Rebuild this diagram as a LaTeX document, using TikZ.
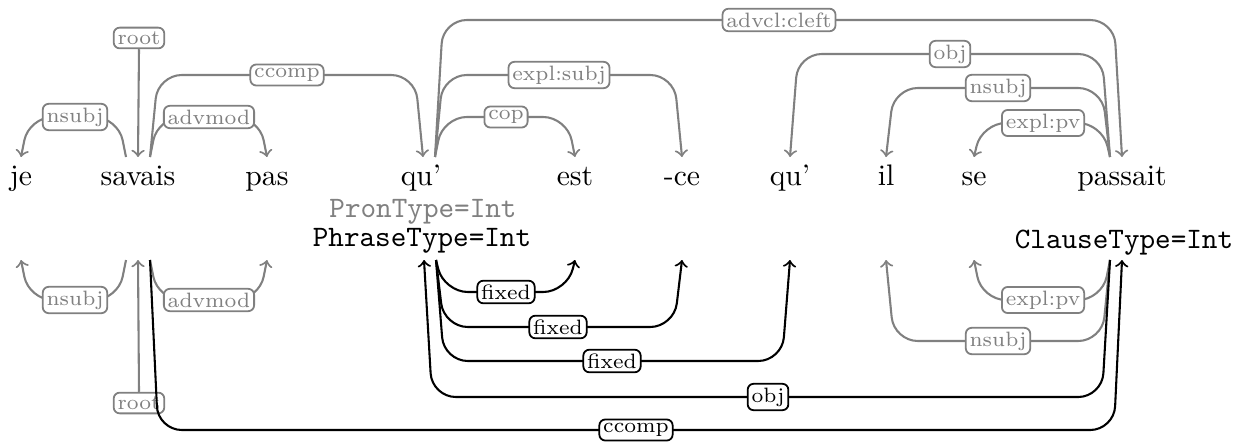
\documentclass[tikz,border=0pt]{standalone}
\usetikzlibrary{calc}
\begin{document}
\begin{tikzpicture}[x=0.3367pt,y=-0.3367pt,
  word/.style={anchor=base,inner sep=0pt,font=\normalsize},
  feat/.style={anchor=base,inner sep=0pt,font=\ttfamily},
  gedge/.style={draw=gray,line width=0.7pt,rounded corners=8pt,->},
  bedge/.style={draw=black,line width=0.7pt,rounded corners=8pt,->},
  glbl/.style={draw=gray,text=gray,fill=white,rounded corners=2pt,inner sep=1.3pt,font=\scriptsize,line width=0.6pt},
  blbl/.style={draw=black,text=black,fill=white,rounded corners=2pt,inner sep=1.3pt,font=\scriptsize,line width=0.6pt}]
\useasboundingbox (0,0) rectangle (1237,443);

% words
\node[word] (je) at (21,185) {je};
\node[word] (savais) at (138,185) {savais};
\node[word] (pas) at (267,185) {pas};
\node[word] (qu1) at (421,185) {qu'};
\node[word] (est) at (575,185) {est};
\node[word] (ce) at (682,185) {-ce};
\node[word] (qu2) at (790,185) {qu'};
\node[word] (il) at (886,185) {il};
\node[word] (se) at (974,185) {se};
\node[word] (passait) at (1122,185) {passait};
\node[feat,text=gray] (pron) at (423,217) {PronType=Int};
\node[feat] (phrase) at (422,246) {PhraseType=Int};
\node[feat] (clause) at (1124,248) {ClauseType=Int};

% anchors
\coordinate (je-T) at (21,157);
\coordinate (savais-T) at (138,157);
\coordinate (pas-T) at (267,157);
\coordinate (qu1-T) at (423,157);
\coordinate (est-T) at (575,157);
\coordinate (ce-T) at (682,157);
\coordinate (qu2-T) at (790,157);
\coordinate (il-T) at (886,157);
\coordinate (se-T) at (974,157);
\coordinate (passait-T) at (1122,157);
\coordinate (je-B) at (21,260);
\coordinate (savais-B) at (138,260);
\coordinate (pas-B) at (267,260);
\coordinate (phrase-B) at (424,260);
\coordinate (est-B) at (575,260);
\coordinate (ce-B) at (682,260);
\coordinate (qu2-B) at (790,260);
\coordinate (il-B) at (886,260);
\coordinate (se-B) at (974,260);
\coordinate (clause-B) at (1122,260);

% ---------- top tree (gray) ----------
\draw[gedge] ($(savais-T)+(-12,0)$) -- ($(savais-T)+(-20,-40)$) -- ($(je-T)+(8,-40)$) -- (je-T);
\node[glbl] (t-nsubj1) at (75,117) {nsubj};
\draw[gedge] ($(savais-T)+(12,0)$) -- ($(savais-T)+(20,-40)$) -- ($(pas-T)+(-8,-40)$) -- (pas-T);
\node[glbl] (t-advmod) at (209,117) {advmod};
\draw[gedge] ($(savais-T)+(12,0)$) -- ($(savais-T)+(20,-82)$) -- ($(qu1-T)+(-8,-82)$) -- (qu1-T);
\node[glbl] (t-ccomp) at (287,75) {ccomp};
\draw[gedge] ($(qu1-T)+(12,0)$) -- ($(qu1-T)+(20,-137)$) -- ($(passait-T)+(-8,-137)$) -- (passait-T);
\node[glbl] (t-advcl) at (779,20) {advcl:cleft};
\draw[gedge] ($(qu1-T)+(12,0)$) -- ($(qu1-T)+(20,-82)$) -- ($(ce-T)+(-8,-82)$) -- (ce-T);
\node[glbl] (t-expl) at (559,75) {expl:subj};
\draw[gedge] ($(qu1-T)+(12,0)$) -- ($(qu1-T)+(20,-40)$) -- ($(est-T)+(-8,-40)$) -- (est-T);
\node[glbl] (t-cop) at (506,117) {cop};
\draw[gedge] ($(passait-T)+(-12,0)$) -- ($(passait-T)+(-20,-103)$) -- ($(qu2-T)+(8,-103)$) -- (qu2-T);
\node[glbl] (t-obj) at (950,54) {obj};
\draw[gedge] ($(passait-T)+(-12,0)$) -- ($(passait-T)+(-20,-69)$) -- ($(il-T)+(8,-69)$) -- (il-T);
\node[glbl] (t-nsubj2) at (998,88) {nsubj};
\draw[gedge] ($(passait-T)+(-12,0)$) -- ($(passait-T)+(-20,-34)$) -- ($(se-T)+(8,-34)$) -- (se-T);
\node[glbl] (t-explpv) at (1043,123) {expl:pv};
\node[glbl] (t-root) at (139,38) {root};
\draw[gedge] (t-root.south) -- (savais-T);

% ---------- bottom tree ----------
\draw[gedge] ($(savais-B)+(-12,0)$) -- ($(savais-B)+(-20,40)$) -- ($(je-B)+(8,40)$) -- (je-B);
\node[glbl] (b-nsubj1) at (75,300) {nsubj};
\draw[gedge] ($(savais-B)+(12,0)$) -- ($(savais-B)+(20,40)$) -- ($(pas-B)+(-8,40)$) -- (pas-B);
\node[glbl] (b-advmod) at (209,300) {advmod};
\draw[gedge] ($(clause-B)+(-12,0)$) -- ($(clause-B)+(-20,81)$) -- ($(il-B)+(8,81)$) -- (il-B);
\node[glbl] (b-nsubj2) at (998,341) {nsubj};
\draw[gedge] ($(clause-B)+(-12,0)$) -- ($(clause-B)+(-20,40)$) -- ($(se-B)+(8,40)$) -- (se-B);
\node[glbl] (b-explpv) at (1043,300) {expl:pv};
\node[glbl] (b-root) at (139,403) {root};
\draw[gedge] (b-root.north) -- (savais-B);

\draw[bedge] ($(phrase-B)+(12,0)$) -- ($(phrase-B)+(20,32)$) -- ($(est-B)+(-8,32)$) -- (est-B);
\node[blbl] (b-fixed1) at (506,292) {fixed};
\draw[bedge] ($(phrase-B)+(12,0)$) -- ($(phrase-B)+(20,67)$) -- ($(ce-B)+(-8,67)$) -- (ce-B);
\node[blbl] (b-fixed2) at (558,327) {fixed};
\draw[bedge] ($(phrase-B)+(12,0)$) -- ($(phrase-B)+(20,101)$) -- ($(qu2-B)+(-8,101)$) -- (qu2-B);
\node[blbl] (b-fixed3) at (612,361) {fixed};
\draw[bedge] ($(clause-B)+(-12,0)$) -- ($(clause-B)+(-20,137)$) -- ($(phrase-B)+(8,137)$) -- (phrase-B);
\node[blbl] (b-obj) at (768,397) {obj};
\draw[bedge] ($(savais-B)+(12,0)$) -- ($(savais-B)+(20,170)$) -- ($(clause-B)+(-8,170)$) -- (clause-B);
\node[blbl] (b-ccomp) at (636,430) {ccomp};
\end{tikzpicture}
\end{document}
